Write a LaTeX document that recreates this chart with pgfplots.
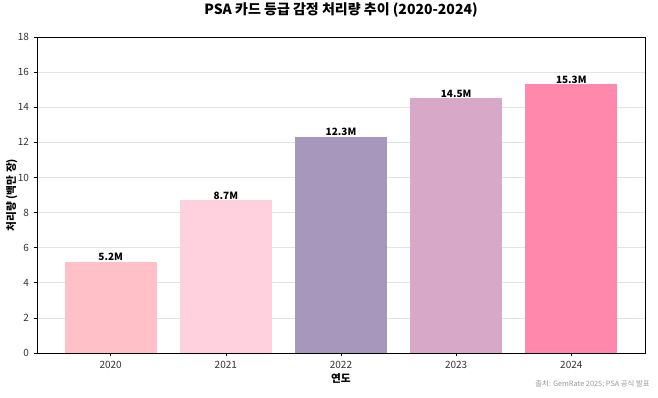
\documentclass[border=0pt]{standalone}
\usepackage{fontspec}
\setmainfont{Noto Sans CJK KR}
\usepackage{pgfplots}
\pgfplotsset{compat=1.18}
\definecolor{c20}{RGB}{255,192,200}
\definecolor{c21}{RGB}{255,209,222}
\definecolor{c22}{RGB}{167,151,188}
\definecolor{c23}{RGB}{216,168,200}
\definecolor{c24}{RGB}{255,136,172}
\begin{document}
\begin{tikzpicture}
\useasboundingbox (-27.75pt,-33pt) rectangle (465.75pt,264.75pt);
\begin{axis}[
  name=ax,
  at={(0,0)}, anchor=south west,
  scale only axis,
  width=456pt, height=237pt,
  ybar, bar shift=0pt, bar width=0.8,
  xmin=-0.64, xmax=4.64,
  ymin=0, ymax=18,
  ytick={0,2,...,18},
  xtick={0,1,2,3,4},
  xticklabels={2020,2021,2022,2023,2024},
  xtick pos=left, ytick pos=left,
  tick align=outside,
  major tick length=2.5pt,
  tick style={black, line width=0.5pt},
  axis line style={black, line width=0.6pt},
  ymajorgrids,
  grid style={gray!22, line width=0.5pt},
  /pgf/number format/assume math mode=true,
  tick label style={font=\fontsize{7.5}{8}\selectfont, text=black!80},
  xlabel={\textbf{연도}},
  ylabel={\textbf{처리량 (백만 장)}},
  xlabel style={font=\fontsize{8}{9}\selectfont, at={(0.5,0)}, anchor=center, yshift=-19pt},
  ylabel style={font=\fontsize{8}{9}\selectfont, at={(0,0.5)}, anchor=center, rotate=0, yshift=19pt},
  title={\textbf{PSA 카드 등급 감정 처리량 추이 (2020-2024)}},
  title style={font=\fontsize{10.5}{12}\selectfont, at={(0.5,1)}, anchor=base, yshift=11pt},
  nodes near coords={\pgfmathprintnumber[fixed,precision=1,fixed zerofill]{\pgfplotspointmeta}M},
  nodes near coords style={font=\fontsize{7.5}{8}\selectfont\bfseries, text=black, inner sep=1pt, yshift=-0.5pt},
]
\addplot[fill=c20, draw=none] coordinates {(0,5.2)};
\addplot[fill=c21, draw=none] coordinates {(1,8.7)};
\addplot[fill=c22, draw=none] coordinates {(2,12.3)};
\addplot[fill=c23, draw=none] coordinates {(3,14.5)};
\addplot[fill=c24, draw=none] coordinates {(4,15.3)};
\end{axis}
\node[anchor=base east, font=\fontsize{5.5}{6}\selectfont, text=gray!80] at (463pt,-25pt) {출처: GemRate 2025; PSA 공식 발표};
\end{tikzpicture}
\end{document}
